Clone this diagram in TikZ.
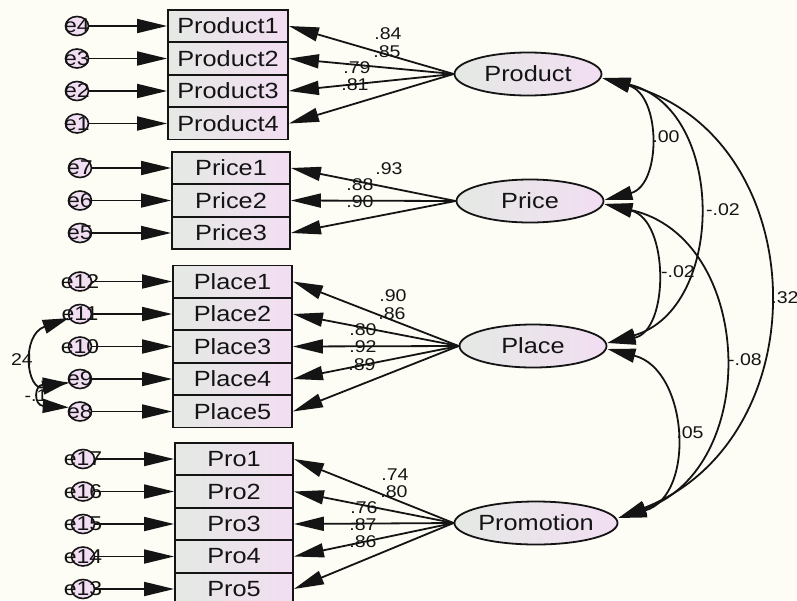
\documentclass[tikz,border=0pt]{standalone}
\usepackage{fontspec}
\setmainfont{Liberation Sans}[FakeStretch=1.15]
\usetikzlibrary{arrows.meta,shapes.geometric}
\definecolor{paper}{RGB}{253,253,246}
\definecolor{fillL}{RGB}{228,233,228}
\definecolor{fillR}{RGB}{242,222,242}
\definecolor{ink}{RGB}{20,20,20}

\begin{document}
\begin{tikzpicture}[x=1pt,y=-1pt,
  obs/.style={draw=ink, line width=1.8pt, left color=fillL, right color=fillR,
    minimum height=32pt, inner sep=0pt, text=ink, font=\fontsize{22}{24}\selectfont},
  lat/.style={ellipse, draw=ink, line width=1.8pt, left color=fillL, right color=fillR,
    minimum width=147pt, minimum height=43pt, inner sep=0pt, text=ink,
    font=\fontsize{22}{24}\selectfont},
  err/.style={ellipse, draw=ink, line width=1.6pt, fill=fillR,
    minimum width=23pt, minimum height=19pt, inner sep=0pt},
  errlab/.style={inner sep=0pt, text=ink, font=\fontsize{20}{22}\selectfont},
  coef/.style={inner sep=0pt, text=ink, font=\fontsize{17}{19}\selectfont},
  link/.style={draw=ink, line width=1.8pt, -{Triangle[length=30pt,width=14pt]}},
  cov/.style={draw=ink, line width=1.8pt,
    {Triangle[length=28pt,width=14pt]}-{Triangle[length=28pt,width=14pt]}},
  ecov/.style={draw=ink, line width=1.8pt,
    {Triangle[length=26pt,width=14pt]}-{Triangle[length=26pt,width=14pt]}}
]
\fill[paper] (0,0) rectangle (797,600);
\useasboundingbox (0,0) rectangle (797,600);

% latent factors
\node[lat] (Product)   at (528,74)  {Product};
\node[lat] (Price)     at (530,201) {Price};
\node[lat] (Place)     at (533,346) {Place};
\node[lat] (Promotion) at (536,523) {Promotion};

% indicator boxes
\foreach \n/\t/\y in {p1/Product1/26, p2/Product2/58.5, p3/Product3/91, p4/Product4/123.5}
  \node[obs, minimum width=120pt] (\n) at (228,\y) {\t};
\foreach \n/\t/\y in {r1/Price1/168, r2/Price2/200.5, r3/Price3/233}
  \node[obs, minimum width=118pt] (\n) at (231,\y) {\t};
\foreach \n/\t/\y in {l1/Place1/281.5, l2/Place2/314, l3/Place3/346.5, l4/Place4/379, l5/Place5/411.5}
  \node[obs, minimum width=119pt] (\n) at (232.5,\y) {\t};
\foreach \n/\t/\y in {m1/Pro1/459, m2/Pro2/491.5, m3/Pro3/524, m4/Pro4/556.5, m5/Pro5/589}
  \node[obs, minimum width=118pt] (\n) at (234,\y) {\t};

% error terms and their paths
\foreach \e/\b/\x in {e4/p1/77, e3/p2/77, e2/p3/77, e1/p4/77,
                      e7/r1/80, e6/r2/80, e5/r3/80,
                      e12/l1/80, e11/l2/80, e10/l3/80, e9/l4/80, e8/l5/80,
                      e17/m1/83, e16/m2/83, e15/m3/83, e14/m4/83, e13/m5/83}{
  \node[err] (\e) at (\x,0 |- \b) {};
  \draw[link] (\e) -- (\b);
  \node[errlab] (\e t) at (\e) {\e};
}

% loadings
\foreach \b in {p1,p2,p3,p4} \draw[link] (Product.west) -- (\b.east);
\foreach \b in {r1,r2,r3} \draw[link] (Price.west) -- (\b.east);
\foreach \b in {l1,l2,l3,l4,l5} \draw[link] (Place.west) -- (\b.east);
\foreach \b in {m1,m2,m3,m4,m5} \draw[link] (Promotion.west) -- (\b.east);

% loading estimates
\node[coef] (c1) at (388,34) {.84};
\node[coef] (c2) at (387,52) {.85};
\node[coef] (c3) at (357,68) {.79};
\node[coef] (c4) at (355,85) {.81};
\node[coef] (c5) at (389,169) {.93};
\node[coef] (c6) at (360,185) {.88};
\node[coef] (c7) at (360,202) {.90};
\node[coef] (c8) at (393,296) {.90};
\node[coef] (c9) at (392,314) {.86};
\node[coef] (c10) at (363,330) {.80};
\node[coef] (c11) at (363,347) {.92};
\node[coef] (c12) at (362,365) {.89};
\node[coef] (c13) at (395,475) {.74};
\node[coef] (c14) at (394,492) {.80};
\node[coef] (c15) at (364,508) {.76};
\node[coef] (c16) at (363,525) {.87};
\node[coef] (c17) at (363,542) {.86};

% factor covariances
\draw[cov] ([yshift=-4pt]Product.east) .. controls +(59,17) and +(57,-15) .. ([yshift=1pt]Price.east);
\draw[cov] ([yshift=-4pt]Product.east) .. controls +(124,30) and +(119,-34) .. ([yshift=3pt]Place.east);
\draw[cov] ([yshift=-4pt]Product.east) .. controls +(212,58) and +(204,-80) .. ([yshift=5pt]Promotion.east);
\draw[cov] ([yshift=-3pt]Price.east) .. controls +(65,16) and +(62,-12) .. ([yshift=3pt]Place.east);
\draw[cov] ([yshift=-3pt]Price.east) .. controls +(150,34) and +(144,-50) .. ([yshift=5pt]Promotion.east);
\draw[cov] ([yshift=-3pt]Place.east) .. controls +(81,20) and +(78,-22) .. ([yshift=5pt]Promotion.east);

\node[coef] (k1) at (666,137) {.00};
\node[coef] (k2) at (723,210) {-.02};
\node[coef] (k3) at (785,298) {.32};
\node[coef] (k4) at (678,272) {-.02};
\node[coef] (k5) at (745,360) {-.08};
\node[coef] (k6) at (690,433) {.05};

% error covariances
\node[coef] (k7) at (22,360) {24};
\node[coef] (k8) at (36,396) {-.1};
\draw[ecov] (e11.200) .. controls +(-48,17) and +(-42,9) .. (e9.195);
\draw[ecov] (e9.200) .. controls +(-35,2) and +(-35,-2) .. (e8.160);
\end{tikzpicture}
\end{document}
